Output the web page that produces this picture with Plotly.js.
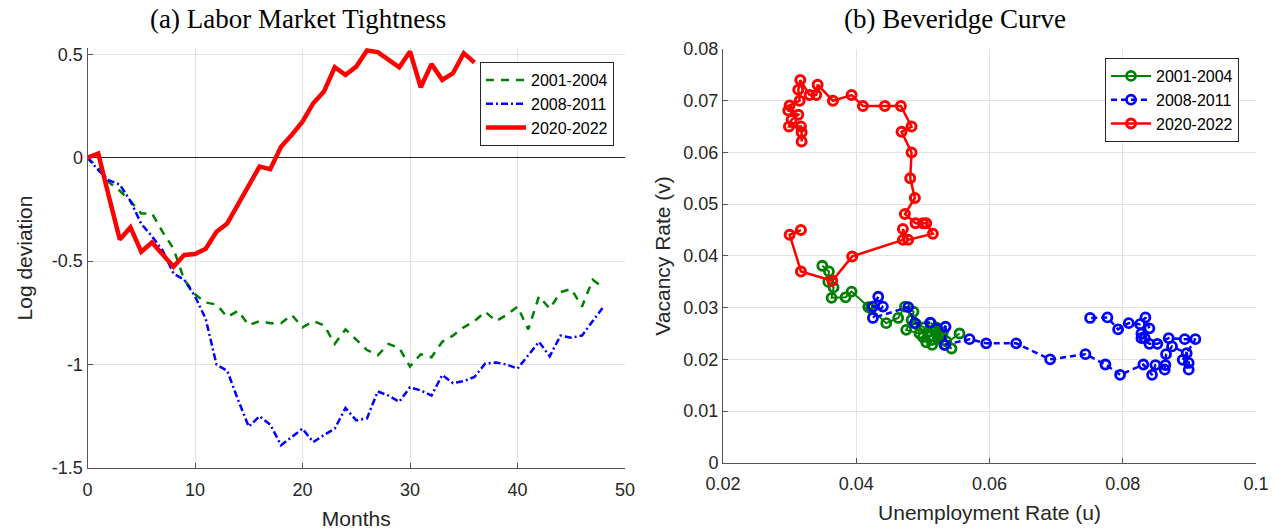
<!DOCTYPE html>
<html><head><meta charset="utf-8">
<script src="https://cdn.plot.ly/plotly-3.0.1.min.js"></script>
<style>html,body{margin:0;padding:0;background:#fff}#chart{width:1276px;height:531px}</style>
</head><body><div id="chart"></div>
<script>
// ---------- Panel (a): Labor market tightness (log deviation) ----------
const months4y = [0,1,2,3,4,5,6,7,8,9,10,11,12,13,14,15,16,17,18,19,20,21,22,23,24,25,26,27,28,29,30,31,32,33,34,35,36,37,38,39,40,41,42,43,44,45,46,47,48];
const months3y = [0,1,2,3,4,5,6,7,8,9,10,11,12,13,14,15,16,17,18,19,20,21,22,23,24,25,26,27,28,29,30,31,32,33,34,35,36];
const tight2001 = [0,-0.05,-0.12,-0.16,-0.21,-0.27,-0.27,-0.36,-0.44,-0.59,-0.66,-0.70,-0.71,-0.77,-0.74,-0.81,-0.79,-0.80,-0.80,-0.76,-0.82,-0.79,-0.81,-0.90,-0.83,-0.88,-0.93,-0.955,-0.90,-0.92,-1.01,-0.95,-0.965,-0.89,-0.86,-0.82,-0.79,-0.745,-0.79,-0.76,-0.72,-0.83,-0.67,-0.73,-0.65,-0.635,-0.72,-0.59,-0.63];
const tight2008 = [0,-0.06,-0.11,-0.13,-0.21,-0.32,-0.38,-0.45,-0.56,-0.59,-0.67,-0.78,-1.0,-1.03,-1.17,-1.30,-1.25,-1.29,-1.39,-1.35,-1.31,-1.375,-1.34,-1.31,-1.21,-1.27,-1.26,-1.13,-1.15,-1.18,-1.11,-1.125,-1.15,-1.05,-1.09,-1.08,-1.06,-0.995,-0.99,-1.0,-1.02,-0.955,-0.89,-0.96,-0.86,-0.87,-0.86,-0.79,-0.72];
const tight2020 = [0,0.02,-0.19,-0.395,-0.337,-0.455,-0.41,-0.47,-0.527,-0.47,-0.466,-0.44,-0.358,-0.318,-0.229,-0.135,-0.043,-0.056,0.053,0.11,0.174,0.263,0.32,0.437,0.40,0.44,0.518,0.51,0.476,0.437,0.513,0.34,0.452,0.376,0.408,0.505,0.46];

// ---------- Panel (b): Beveridge curve ----------
const u2001 = [0.0349,0.0359,0.0358,0.0366,0.0363,0.0384,0.0393,0.0418,0.0422,0.0445,0.0463,0.0473,0.0486,0.0483,0.0475,0.0495,0.0490,0.0502,0.0508,0.0500,0.0512,0.0518,0.0525,0.0515,0.0505,0.0514,0.0522,0.0530,0.0520,0.0512,0.0528,0.0535,0.0543,0.0532,0.0555];
const v2001 = [0.0381,0.0370,0.0350,0.0339,0.0319,0.0320,0.0331,0.0301,0.0298,0.0270,0.0280,0.0302,0.0292,0.0276,0.0257,0.0250,0.0268,0.0262,0.0254,0.0243,0.0245,0.0256,0.0248,0.0238,0.0233,0.0228,0.0240,0.0252,0.0262,0.0270,0.0243,0.0235,0.0221,0.0228,0.0250];
const u2008 = [0.0433,0.0425,0.0440,0.0425,0.0478,0.0488,0.0511,0.0534,0.0533,0.0570,0.0595,0.0640,0.0691,0.0744,0.0774,0.0796,0.0831,0.0844,0.0849,0.0864,0.0863,0.0865,0.0874,0.0896,0.0899,0.0899,0.0890,0.0909,0.0893,0.0869,0.0852,0.0840,0.0828,0.0833,0.0828,0.0840,0.0834,0.0826,0.0809,0.0793,0.0777,0.0751];
const v2008 = [0.0321,0.0302,0.0302,0.0280,0.0301,0.0270,0.0271,0.0263,0.0228,0.0239,0.0231,0.0231,0.0200,0.0210,0.0190,0.0170,0.0190,0.0170,0.0189,0.0189,0.0180,0.0210,0.0225,0.0212,0.0193,0.0180,0.0199,0.0239,0.0239,0.0241,0.0230,0.0230,0.0241,0.0241,0.0250,0.0260,0.0281,0.0268,0.0270,0.0258,0.0281,0.0280];
const u2020 = [0.0317,0.0300,0.0317,0.0364,0.0394,0.0470,0.0470,0.0478,0.0515,0.0505,0.0500,0.0489,0.0473,0.0488,0.0481,0.0483,0.0468,0.0483,0.0467,0.0443,0.0410,0.0393,0.0365,0.0342,0.0340,0.0330,0.0316,0.0313,0.0315,0.0300,0.0298,0.0313,0.0303,0.0299,0.0317,0.0318,0.0318];
const v2020 = [0.0450,0.0441,0.0370,0.0352,0.0399,0.0431,0.0452,0.0431,0.0443,0.0463,0.0463,0.0463,0.0481,0.0512,0.0550,0.0600,0.0640,0.0650,0.0690,0.0690,0.0690,0.0711,0.0700,0.0731,0.0711,0.0711,0.0740,0.0721,0.0700,0.0691,0.0681,0.0673,0.0663,0.0650,0.0650,0.0639,0.0621];

const seriesNames = ['2001-2004','2008-2011','2020-2022'];
const leftYTicks = [-1.5,-1,-0.5,0,0.5];
const leftYText = ['-1.5','-1','-0.5','0','0.5'];
const leftXTicks = [0,10,20,30,40,50];
const rightXTicks = [0.02,0.04,0.06,0.08,0.1];
const rightXText = ['0.02','0.04','0.06','0.08','0.1'];
const rightYTicks = [0,0.01,0.02,0.03,0.04,0.05,0.06,0.07,0.08];
const rightYText = ['0','0.01','0.02','0.03','0.04','0.05','0.06','0.07','0.08'];

const GREEN = '#008000', BLUE = '#0000ff', RED = '#ff0000';
const W = 1276, H = 531;
const px = v => v / W, py = v => (H - v) / H;

const traces = [
  {x: months4y, y: tight2001, name: seriesNames[0], mode: 'lines', line: {color: GREEN, width: 2.5, dash: '8px,7px'}, xaxis: 'x', yaxis: 'y', legend: 'legend'},
  {x: months4y, y: tight2008, name: seriesNames[1], mode: 'lines', line: {color: BLUE, width: 2.5, dash: '7px,3px,2px,3px'}, xaxis: 'x', yaxis: 'y', legend: 'legend'},
  {x: months3y, y: tight2020, name: seriesNames[2], mode: 'lines', line: {color: RED, width: 4.5}, xaxis: 'x', yaxis: 'y', legend: 'legend'},
  {x: u2001, y: v2001, name: seriesNames[0], mode: 'lines+markers', line: {color: GREEN, width: 2}, marker: {symbol: 'circle-open', size: 9, color: GREEN, line: {width: 2.8, color: GREEN}}, xaxis: 'x2', yaxis: 'y2', legend: 'legend2'},
  {x: u2008, y: v2008, name: seriesNames[1], mode: 'lines+markers', line: {color: BLUE, width: 2.5, dash: '6px,4px'}, marker: {symbol: 'circle-open', size: 9, color: BLUE, line: {width: 2.8, color: BLUE}}, xaxis: 'x2', yaxis: 'y2', legend: 'legend2'},
  {x: u2020, y: v2020, name: seriesNames[2], mode: 'lines+markers', line: {color: RED, width: 2.5}, marker: {symbol: 'circle-open', size: 9, color: RED, line: {width: 3, color: RED}}, xaxis: 'x2', yaxis: 'y2', legend: 'legend2'}
];

const tickFont = {family: 'Liberation Sans, Arial, sans-serif', size: 18, color: '#262626'};
const titleFont = {family: 'Liberation Sans, Arial, sans-serif', size: 21, color: '#262626'};
const gridCol = '#e3e3e3';
const axCol = '#555555';

const layout = {
  width: W, height: H,
  margin: {l: 0, r: 0, t: 0, b: 0},
  paper_bgcolor: '#ffffff', plot_bgcolor: '#ffffff',
  showlegend: true,
  xaxis: {domain: [px(87.5), px(625)], range: [0, 50], tickvals: leftXTicks, ticktext: leftXTicks.map(String),
    showgrid: true, gridcolor: gridCol, zeroline: false, showline: true, linecolor: axCol, linewidth: 1,
    ticks: 'inside', ticklen: 5, tickcolor: axCol, tickfont: tickFont, anchor: 'y', ticklabelstandoff: 5,
    title: {text: 'Months', font: titleFont, standoff: 12}},
  yaxis: {domain: [py(468), py(48)], range: [-1.5, 0.53], tickvals: leftYTicks, ticktext: leftYText,
    showgrid: true, gridcolor: gridCol, zeroline: true, zerolinecolor: '#262626', zerolinewidth: 1,
    showline: true, linecolor: axCol, linewidth: 1, ticks: 'inside', ticklen: 5, tickcolor: axCol, tickfont: tickFont, anchor: 'x',
    title: {text: 'Log deviation', font: titleFont, standoff: 13}},
  xaxis2: {domain: [px(723), px(1256)], range: [0.02, 0.1], tickvals: rightXTicks, ticktext: rightXText,
    showgrid: true, gridcolor: gridCol, zeroline: false, showline: true, linecolor: axCol, linewidth: 1,
    ticks: 'inside', ticklen: 5, tickcolor: axCol, tickfont: tickFont, anchor: 'y2', ticklabelstandoff: 5,
    title: {text: 'Unemployment Rate (u)', font: titleFont, standoff: 11}},
  yaxis2: {domain: [py(462.8), py(49)], range: [0, 0.08], tickvals: rightYTicks, ticktext: rightYText,
    showgrid: true, gridcolor: gridCol, zeroline: false, showline: true, linecolor: axCol, linewidth: 1,
    ticks: 'inside', ticklen: 5, tickcolor: axCol, tickfont: tickFont, anchor: 'x2',
    title: {text: 'Vacancy Rate (v)', font: titleFont, standoff: 6}},
  legend: {x: px(480), y: py(62), xanchor: 'left', yanchor: 'top', bgcolor: '#ffffff', bordercolor: '#262626', borderwidth: 1,
    font: {family: 'Liberation Sans, Arial, sans-serif', size: 16, color: '#000'}, tracegroupgap: 0, itemwidth: 40},
  legend2: {x: px(1105), y: py(58), xanchor: 'left', yanchor: 'top', bgcolor: '#ffffff', bordercolor: '#262626', borderwidth: 1,
    font: {family: 'Liberation Sans, Arial, sans-serif', size: 16, color: '#000'}, tracegroupgap: 0, itemwidth: 40},
  annotations: [
    {text: '(a) Labor Market Tightness', xref: 'paper', yref: 'paper', x: px(298), y: py(19), xanchor: 'center', yanchor: 'middle', showarrow: false,
     font: {family: 'Liberation Serif, serif', size: 27, color: '#000'}},
    {text: '(b) Beveridge Curve', xref: 'paper', yref: 'paper', x: px(955), y: py(19), xanchor: 'center', yanchor: 'middle', showarrow: false,
     font: {family: 'Liberation Serif, serif', size: 27, color: '#000'}}
  ]
};

Plotly.newPlot('chart', traces, layout, {staticPlot: true, displayModeBar: false});
</script></body></html>
